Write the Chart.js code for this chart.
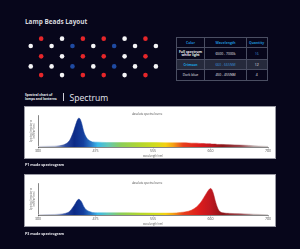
<!DOCTYPE html>
<html><head><meta charset="utf-8">
<script src="https://cdn.jsdelivr.net/npm/chart.js@4.4.1/dist/chart.umd.min.js"></script>
<style>
html,body{margin:0;padding:0;background:#07061b;width:300px;height:249px;overflow:hidden;font-family:'Open Sans','Liberation Sans',sans-serif;}
.abs{position:absolute;white-space:nowrap;}
#title{left:25px;top:17px;font-size:6.4px;font-weight:700;color:#d8d8de;}
#specHead{left:25px;top:93px;font-size:3.3px;line-height:3.8px;font-weight:700;color:#e8e8ee;}
#bar{left:62.5px;top:93px;width:0.8px;height:8px;background:#d0d0d8;}
#spectrum{left:69.5px;top:91.5px;font-size:8.6px;color:#e6e6ee;font-weight:400;}
.cap{font-size:3.6px;font-weight:700;color:#e8e8ee;}
.abscurve{font-size:2.8px;color:#444;}
canvas.spec{position:absolute;background:#fff;outline:1px solid #9a9aa4;}
table{position:absolute;left:175.7px;top:37.3px;border-collapse:collapse;table-layout:fixed;font-size:3.4px;color:#e8e8ee;}
td,th{border:0.6px solid #4a4e62;padding:0;text-align:center;line-height:3.8px;}
th{color:#1e8ed6;font-weight:700;}
tr.hl td{background:#262a3c;}
</style></head><body>
<div id="title" class="abs">Lamp Beads Layout</div>
<canvas id="beads" width="154" height="58" style="position:absolute;left:16px;top:28px;"></canvas>
<table>
<colgroup><col style="width:28.6px"><col style="width:41.4px"><col style="width:21px"></colgroup>
<tr style="height:9.4px"><th>Color</th><th>Wavelength</th><th>Quantity</th></tr>
<tr style="height:12.6px"><td style="font-weight:700">Full spectrum<br>white light</td><td>6500 - 7000k</td><td style="color:#3a8fd8">16</td></tr>
<tr class="hl" style="height:10px"><td style="color:#19a8e0;font-weight:700">Crimson</td><td style="color:#3a8fd8">660 - 665NM</td><td>12</td></tr>
<tr style="height:10.7px"><td>Dark blue</td><td>450 - 455NM</td><td>4</td></tr>
</table>
<div id="specHead" class="abs">Spectral chart of<br>lamps and lanterns</div>
<div id="bar" class="abs"></div>
<div id="spectrum" class="abs">Spectrum</div>
<canvas id="p1" class="spec" width="250" height="51" style="left:25px;top:107px;"></canvas>
<div class="abs abscurve" style="left:132px;top:112.3px;">absolute spectral curve</div>
<div class="abs cap" style="left:25px;top:161.5px;">P1 mode spectrogram</div>
<canvas id="p3" class="spec" width="250" height="51" style="left:25px;top:175px;"></canvas>
<div class="abs abscurve" style="left:132px;top:180.5px;">absolute spectral curve</div>
<div class="abs cap" style="left:25px;top:231px;">P3 mode spectrogram</div>
<script>
// ---- data ----
const beadRowLevels = [0, 0.81, 1.94, 3.04, 3.99];
const beadRows = [
  ['R','W','R','R','W','R'],
  ['W','W','B','W','B','W','W'],
  ['R','W','R','R','W','R'],
  ['W','W','B','W','B','W','W'],
  ['R','W','R','R','W','R']
];
const tickNm = [380, 475, 555, 660, 780];
const wavelengths = [380,400,415,425,432,438,442,445,447,449,452,456,460,465,470,478,490,520,560,590,605,615,625,635,642,648,653,657,660,663,666,670,674,678,685,700,720,740,760,780];
const p1Values = [2,2.5,4,9,20,45,68,84,90,89,75,46,30,20,16,15,14,14,14,13,13,13,12,12,11,11,10,10,10,9,9,9,8,8,8,7,6,5,3,2];
const p3Values = [1,1.5,2.5,5,11,25,37,46,49,48,41,25,16,11,8,7,7,7,6,6,8,10,15,26,39,55,69,79,83,79,67,44,25,13,7,5,4,3,2,1];

// ---- style ----
const beadColors = {R:'#e6262a', W:'#f4f4f6', B:'#1f4aa2'};
const specStopsNm = [380,410,425,440,455,468,478,492,510,535,560,578,592,610,640,660,685,725,750,780];
const specStopsColor = ['#d4d4dc','#9aa4c4','#2c4aa0','#0c2a86','#143f9e','#2a78c8','#3ab8e8','#62c8b8','#8cce5a','#b0d630','#d2dc1c','#f4d012','#f5a014','#e8401c','#dc1c1c','#c01820','#8c1418','#9a4a50','#b8a4a4','#c8c4c4'];

// beads
const beadSets = {R:[],W:[],B:[]};
beadRows.forEach((row, r) => {
  const start = row.length === 7 ? 0 : 1;
  row.forEach((c, i) => beadSets[c].push({x: start + 2*i, y: beadRowLevels[r]}));
});
new Chart(document.getElementById('beads'), {
  type: 'scatter',
  data: {datasets: Object.keys(beadSets).map(k => ({
    data: beadSets[k], backgroundColor: beadColors[k], borderWidth: 0, pointRadius: 2.3
  }))},
  options: {
    responsive: false, devicePixelRatio: 1, animation: false,
    layout: {padding: 0},
    plugins: {legend: {display: false}, tooltip: {enabled: false}},
    scales: {
      x: {display: false, min: -1.03, max: 12.97},
      y: {display: false, reverse: true, min: -0.726, max: 4.745}
    }
  }
});

// spectra
function nmToPos(nm) {
  for (let i = 0; i < tickNm.length - 1; i++) {
    if (nm <= tickNm[i+1]) return i + (nm - tickNm[i]) / (tickNm[i+1] - tickNm[i]);
  }
  return tickNm.length - 1;
}
function specFill(ctx) {
  const chart = ctx.chart;
  const area = chart.chartArea;
  if (!area) return '#888';
  const xs = chart.scales.x;
  const g = chart.ctx.createLinearGradient(area.left, 0, area.right, 0);
  const w = area.right - area.left;
  specStopsNm.forEach((nm, i) => {
    const f = (xs.getPixelForValue(nmToPos(nm)) - area.left) / w;
    g.addColorStop(Math.min(1, Math.max(0, f)), specStopsColor[i]);
  });
  return g;
}
function makeSpec(id, values) {
  new Chart(document.getElementById(id), {
    type: 'line',
    data: {datasets: [{
      data: wavelengths.map((nm, i) => ({x: nmToPos(nm), y: values[i]})),
      fill: 'origin', backgroundColor: specFill, borderColor: specFill,
      borderWidth: 0.5, pointRadius: 0, cubicInterpolationMode: 'monotone'
    }]},
    options: {
      responsive: false, devicePixelRatio: 1, animation: false,
      layout: {padding: {top: 8, right: 7, left: 0, bottom: 0}},
      plugins: {legend: {display: false}, tooltip: {enabled: false}},
      scales: {
        x: {
          type: 'linear', min: 0, max: tickNm.length - 1,
          afterBuildTicks: s => { s.ticks = tickNm.map((v, i) => ({value: i})); },
          afterFit: s => { s.height = 11; },
          ticks: {callback: (v, i) => String(tickNm[i]), font: {size: 3.6, family: 'Open Sans'}, color: '#555', padding: 0.5, maxRotation: 0, autoSkip: false},
          grid: {drawOnChartArea: false, drawTicks: true, tickLength: 1.5, color: '#777', lineWidth: 0.5},
          border: {display: true, color: '#333', width: 0.6},
          title: {display: true, text: 'wavelength (nm)', font: {size: 2.6, family: 'Open Sans'}, color: '#555', padding: 0}
        },
        y: {
          min: 0, max: 100,
          afterFit: s => { s.width = 13; },
          ticks: {display: false},
          grid: {drawOnChartArea: false, drawTicks: false},
          border: {display: true, color: '#333', width: 0.6},
          title: {display: true, text: ['Spectral irradiance', '(mW/m²/nm)'], font: {size: 2.6, family: 'Open Sans'}, color: '#666', padding: {top: 5, bottom: 0}}
        }
      }
    }
  });
}
makeSpec('p1', p1Values);
makeSpec('p3', p3Values);
</script>
</body></html>
